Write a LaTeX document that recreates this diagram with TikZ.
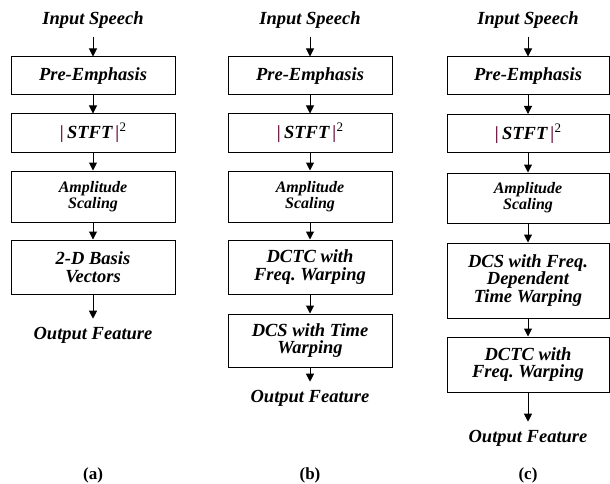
\documentclass[tikz,border=0pt]{standalone}
\usepackage{fontspec}
\setmainfont{Liberation Serif}
\usetikzlibrary{arrows.meta}
\definecolor{barcol}{RGB}{115,30,75}
\frenchspacing
\newcommand{\stftlbl}{{\color{barcol}|}\,STFT\,{\color{barcol}|}\raisebox{7pt}{\mdseries\upshape\fontsize{13}{13}\selectfont 2}}
\begin{document}
\begin{tikzpicture}[x=1pt,y=-1pt,
 blk/.style={draw, line width=1pt, minimum width=164pt, inner sep=0pt, align=center, font=\bfseries\itshape\fontsize{18.5}{17.5}\selectfont},
 amp/.style={blk, font=\bfseries\itshape\fontsize{16}{16}\selectfont},
 lbl/.style={inner xsep=0pt, inner ysep=8pt, font=\bfseries\itshape\fontsize{18.5}{17.5}\selectfont},
 arr/.style={-{Triangle[length=8pt,width=8pt]}, line width=1pt},
 sublbl/.style={font=\bfseries\fontsize{17}{17}\selectfont}]
\useasboundingbox (0,0) rectangle (610,484);
% column (a)
\node[lbl] (ain) at (93,20) {Input Speech};
\node[blk, minimum height=38pt] (a1) at (93,76) {Pre-Emphasis};
\node[blk, minimum height=38pt] (a2) at (93,133) {\stftlbl};
\node[amp, minimum height=51pt] (a3) at (93,196.5) {Amplitude\\Scaling};
\node[blk, minimum height=54pt] (a4) at (93,267) {2-D Basis\\Vectors};
\node[lbl] (aout) at (93,335) {Output Feature};
\node[sublbl] (acap) at (93,475) {(a)};
\draw[arr] (ain) -- (a1);
\draw[arr] (a1) -- (a2);
\draw[arr] (a2) -- (a3);
\draw[arr] (a3) -- (a4);
\draw[arr] (a4) -- (aout);
% column (b)
\node[lbl] (bin) at (310,20) {Input Speech};
\node[blk, minimum height=38pt] (b1) at (310,76) {Pre-Emphasis};
\node[blk, minimum height=38pt] (b2) at (310,133) {\stftlbl};
\node[amp, minimum height=51pt] (b3) at (310,196.5) {Amplitude\\Scaling};
\node[blk, minimum height=54pt] (b4) at (310,267) {DCTC with\\Freq. Warping};
\node[blk, minimum height=53pt] (b5) at (310,340.5) {DCS with Time\\Warping};
\node[lbl] (bout) at (310,398) {Output Feature};
\node[sublbl] (bcap) at (310,475) {(b)};
\draw[arr] (bin) -- (b1);
\draw[arr] (b1) -- (b2);
\draw[arr] (b2) -- (b3);
\draw[arr] (b3) -- (b4);
\draw[arr] (b4) -- (b5);
\draw[arr] (b5) -- (bout);
% column (c)
\node[lbl] (cin) at (528,20) {Input Speech};
\node[blk, minimum width=162pt, minimum height=38pt] (c1) at (528,76) {Pre-Emphasis};
\node[blk, minimum width=162pt, minimum height=38pt] (c2) at (528,133.5) {\stftlbl};
\node[amp, minimum width=162pt, minimum height=50pt] (c3) at (528,198) {Amplitude\\Scaling};
\node[blk, minimum width=162pt, minimum height=75pt] (c4) at (528,280.5) {DCS with Freq.\\Dependent\\Time Warping};
\node[blk, minimum width=162pt, minimum height=55pt] (c5) at (528,364.5) {DCTC with\\Freq. Warping};
\node[lbl] (cout) at (528,438) {Output Feature};
\node[sublbl] (ccap) at (528,475) {(c)};
\draw[arr] (cin) -- (c1);
\draw[arr] (c1) -- (c2);
\draw[arr] (c2) -- (c3);
\draw[arr] (c3) -- (c4);
\draw[arr] (c4) -- (c5);
\draw[arr] (c5) -- (cout);
\end{tikzpicture}
\end{document}
